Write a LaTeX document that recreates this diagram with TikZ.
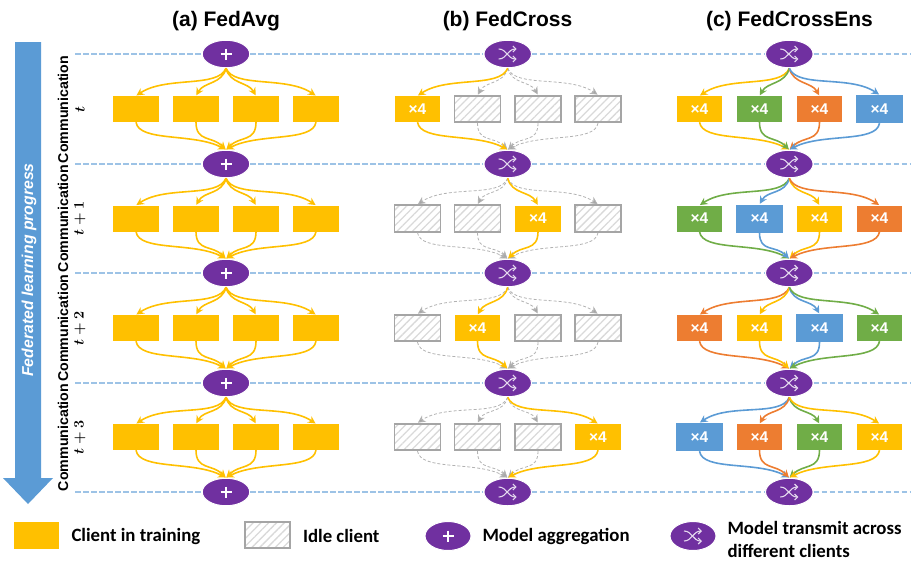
\documentclass[tikz,border=0pt]{standalone}
\usepackage{fontspec}
\setmainfont{Liberation Sans}
\newfontfamily\legendfont{Carlito}
\usetikzlibrary{arrows.meta,patterns.meta,shapes.geometric,calc}
\definecolor{cY}{HTML}{FFC000}
\definecolor{cG}{HTML}{70AD47}
\definecolor{cO}{HTML}{ED7D31}
\definecolor{cB}{HTML}{5B9BD5}
\definecolor{cP}{HTML}{7030A0}
\definecolor{cGray}{HTML}{A5A5A5}
\definecolor{cDash}{HTML}{9DC3E6}
\definecolor{cIcon}{HTML}{E4D8EE}
\tikzset{
  hub/.style={ellipse,fill=cP,draw=white,line width=1pt,minimum width=47.5pt,minimum height=27.5pt,inner sep=0pt},
  clientbase/.style={rectangle,inner sep=0pt,minimum width=45.5pt,minimum height=26pt,text=white,font=\fontsize{15.5}{16}\selectfont\bfseries},
  clY/.style={clientbase,fill=cY},
  clG/.style={clientbase,fill=cG},
  clO/.style={clientbase,fill=cO},
  clB/.style={clientbase,fill=cB,minimum width=47pt,minimum height=28pt},
  clIdle/.style={rectangle,inner sep=0pt,minimum width=46pt,minimum height=26.5pt,draw=cGray,line width=1.7pt,
    pattern={Lines[angle=45,distance=5.5pt,line width=1.3pt]},pattern color=black!15},
  flowY/.style={draw=cY,line width=1.6pt,-{Stealth[length=7.5pt,width=7.5pt]},shorten >=0.5pt},
  flowG/.style={flowY,draw=cG},
  flowO/.style={flowY,draw=cO},
  flowB/.style={flowY,draw=cB},
  flowIdle/.style={draw=cGray!85,line width=0.8pt,dash pattern=on 3pt off 2pt,-{Stealth[length=7.5pt,width=7.5pt,fill=cGray]},shorten >=0.5pt},
  sep/.style={draw=cDash,line width=1.3pt,dash pattern=on 5.5pt off 2.5pt},
  iconline/.style={draw=cIcon,line width=1.1pt},
  plusline/.style={draw=white,line width=1.5pt},
  titletext/.style={font=\fontsize{21}{22}\selectfont\bfseries},
  commtext/.style={rotate=90,font=\fontsize{14.2}{15}\selectfont\bfseries},
  legendtext/.style={anchor=west,font=\fontsize{18.8}{23}\legendfont\selectfont\bfseries,align=left},
}
\newcommand\outflow[4]{%
  \ifcase#4\relax
    \path[#1] (#2.south) .. controls +(-8,20) and +(30,-20) .. (#3.north);
  \or
    \path[#1] (#2.south) .. controls +(-4,16) and +(8,-14) .. (#3.north);
  \or
    \path[#1] (#2.south) .. controls +(4,16) and +(-8,-14) .. (#3.north);
  \or
    \path[#1] (#2.south) .. controls +(8,20) and +(-30,-20) .. (#3.north);
  \fi}
\newcommand\inflow[4]{%
  \ifcase#4\relax
    \path[#1] (#3.south) .. controls +(3,20) and +(-32,-17) .. (#2.north);
  \or
    \path[#1] (#3.south) .. controls +(0,20) and +(-14,-14) .. (#2.north);
  \or
    \path[#1] (#3.south) .. controls +(0,20) and +(14,-14) .. (#2.north);
  \or
    \path[#1] (#3.south) .. controls +(-3,20) and +(32,-17) .. (#2.north);
  \fi}
\newcommand\plusicon[1]{%
  \path[plusline] ($(#1)+(-5.5,0)$) -- ($(#1)+(5.5,0)$);
  \path[plusline] ($(#1)+(0,-5.5)$) -- ($(#1)+(0,5.5)$);}
\newcommand\shufficon[1]{%
  \begin{scope}[shift={(#1)}]
    \path[iconline,-{Straight Barb[length=3pt,width=6pt]}] (-9,-5) .. controls (-1,-5) and (0,5) .. (9,5);
    \path[iconline,-{Straight Barb[length=3pt,width=6pt]}] (-9,5) .. controls (-1,5) and (0,-5) .. (9,-5);
  \end{scope}}
\begin{document}
\begin{tikzpicture}[x=1pt,y=-1pt]
\useasboundingbox (0,0) rectangle (912,566);
% titles
\node[titletext] (ta) at (226,21) {(a) FedAvg};
\node[titletext] (tb) at (507.5,21) {(b) FedCross};
\node[titletext] (tc) at (789.5,21) {(c) FedCrossEns};
% progress arrow
\fill[cB] (15,42) -- (41,42) -- (41,478) -- (53,478) -- (28,504) -- (3,478) -- (15,478) -- cycle;
\node[rotate=90,text=white,font=\fontsize{15.8}{16}\selectfont\bfseries\itshape] (prog) at (29,270) {Federated learning progress};
% hubs
\foreach \r/\y in {0/54,1/164,2/273,3/383,4/492}{
  \node[hub] (a\r) at (226,\y) {};
  \node[hub] (b\r) at (507.7,\y) {};
  \node[hub] (c\r) at (789.3,\y) {};
  \coordinate (L\r) at (75,\y);
  \coordinate (R\r) at (910,\y);
  \path[sep] (L\r) -- (a\r.west);
  \path[sep] (a\r.east) -- (b\r.west);
  \path[sep] (b\r.east) -- (c\r.west);
  \path[sep] (c\r.east) -- (R\r);
  \plusicon{a\r}
  \shufficon{b\r}
  \shufficon{c\r}
}
% row labels
\foreach \r/\y/\lab in {0/109.5/t,1/218.5/t+1,2/328/t+2,3/437.5/t+3}{
  \node[commtext] (comm\r) at (63,\y) {Communication};
  \node[rotate=90,font=\fontsize{14}{15}\selectfont\boldmath] (tl\r) at (80,\y) {$\lab$};
}
% panel a
\foreach \r/\y in {0/109,1/218.5,2/328,3/437}{
  \pgfmathtruncatemacro\nx{\r+1}
  \foreach \c/\x in {0/136,1/196,2/256,3/316}{
    \node[clY] (a-\r-\c) at (\x,\y) {};
    \outflow{flowY}{a\r}{a-\r-\c}{\c}
    \inflow{flowY}{a\nx}{a-\r-\c}{\c}
  }
}
% panel b
\foreach \r/\y/\act in {0/109/0,1/218.5/2,2/328/1,3/437/3}{
  \pgfmathtruncatemacro\nx{\r+1}
  \foreach \c/\x in {0/417.5,1/477.5,2/538,3/598}{
    \ifnum\c=\act\relax
      \node[clY] (b-\r-\c) at (\x,\y) {×4};
    \else
      \node[clIdle] (b-\r-\c) at (\x,\y) {};
      \outflow{flowIdle}{b\r}{b-\r-\c}{\c}
      \inflow{flowIdle}{b\nx}{b-\r-\c}{\c}
    \fi
  }
  \outflow{flowY}{b\r}{b-\r-\act}{\act}
  \inflow{flowY}{b\nx}{b-\r-\act}{\act}
}
% panel c
\foreach \r/\y/\ca/\cb/\cc/\cd in {0/109/Y/G/O/B,1/218.5/G/B/Y/O,2/328/O/Y/B/G,3/437/B/O/G/Y}{
  \pgfmathtruncatemacro\nx{\r+1}
  \foreach \c/\x/\k in {0/699.5/\ca,1/759.5/\cb,2/819.5/\cc,3/879.5/\cd}{
    \node[cl\k] (c-\r-\c) at (\x,\y) {×4};
    \outflow{flow\k}{c\r}{c-\r-\c}{\c}
    \inflow{flow\k}{c\nx}{c-\r-\c}{\c}
  }
}
% legend
\node[clY,minimum width=45pt,minimum height=27pt] (lg1) at (36.5,535.5) {};
\node[legendtext] (lt1) at (68,536) {Client in training};
\node[clIdle,minimum width=45pt,minimum height=26pt] (lg2) at (267.5,535) {};
\node[legendtext] (lt2) at (299.5,536) {Idle client};
\node[hub,minimum width=46pt,minimum height=29pt] (lg3) at (448,536) {};
\plusicon{lg3}
\node[legendtext] (lt3) at (479,536) {Model aggregation};
\node[hub,minimum width=46pt,minimum height=29pt] (lg4) at (693,536) {};
\shufficon{lg4}
\node[legendtext] (lt4) at (724,539) {Model transmit across\\different clients};
\end{tikzpicture}
\end{document}
